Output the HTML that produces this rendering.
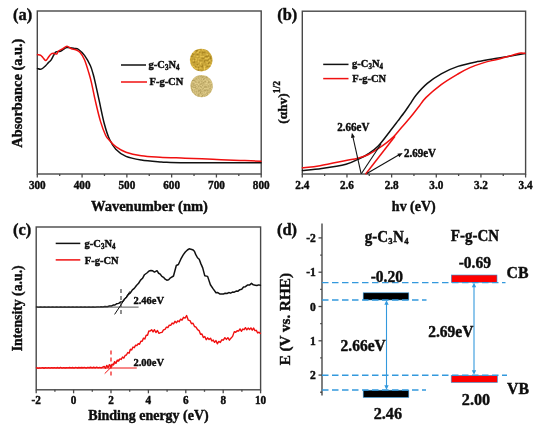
<!DOCTYPE html>
<html><head><meta charset="utf-8"><style>
html,body{margin:0;padding:0;background:#fff;width:550px;height:431px;overflow:hidden}
svg{display:block;filter:blur(0.3px)}
text{font-family:"Liberation Serif",serif;font-weight:bold;fill:#0d0d0d;stroke:#0d0d0d;stroke-width:0.4px}
</style></head><body>
<svg width="550" height="431" viewBox="0 0 550 431">
<rect width="550" height="431" fill="#fff"/>
<rect x="37.3" y="11" width="223.89999999999998" height="163" fill="none" stroke="#484848" stroke-width="1.4"/>
<line x1="37.3" y1="174" x2="37.3" y2="177.5" stroke="#484848" stroke-width="1.3" />
<text transform="translate(37.30,188.50) scale(1,1.06)" x="0" y="0" font-size="11.2" text-anchor="middle" >300</text>
<line x1="59.69" y1="174" x2="59.69" y2="176" stroke="#484848" stroke-width="1.3" />
<line x1="82.07999999999998" y1="174" x2="82.07999999999998" y2="177.5" stroke="#484848" stroke-width="1.3" />
<text transform="translate(82.08,188.50) scale(1,1.06)" x="0" y="0" font-size="11.2" text-anchor="middle" >400</text>
<line x1="104.47" y1="174" x2="104.47" y2="176" stroke="#484848" stroke-width="1.3" />
<line x1="126.85999999999999" y1="174" x2="126.85999999999999" y2="177.5" stroke="#484848" stroke-width="1.3" />
<text transform="translate(126.86,188.50) scale(1,1.06)" x="0" y="0" font-size="11.2" text-anchor="middle" >500</text>
<line x1="149.25" y1="174" x2="149.25" y2="176" stroke="#484848" stroke-width="1.3" />
<line x1="171.64" y1="174" x2="171.64" y2="177.5" stroke="#484848" stroke-width="1.3" />
<text transform="translate(171.64,188.50) scale(1,1.06)" x="0" y="0" font-size="11.2" text-anchor="middle" >600</text>
<line x1="194.02999999999997" y1="174" x2="194.02999999999997" y2="176" stroke="#484848" stroke-width="1.3" />
<line x1="216.41999999999996" y1="174" x2="216.41999999999996" y2="177.5" stroke="#484848" stroke-width="1.3" />
<text transform="translate(216.42,188.50) scale(1,1.06)" x="0" y="0" font-size="11.2" text-anchor="middle" >700</text>
<line x1="238.80999999999995" y1="174" x2="238.80999999999995" y2="176" stroke="#484848" stroke-width="1.3" />
<line x1="261.2" y1="174" x2="261.2" y2="177.5" stroke="#484848" stroke-width="1.3" />
<text transform="translate(261.20,188.50) scale(1,1.06)" x="0" y="0" font-size="11.2" text-anchor="middle" >800</text>
<text transform="translate(149.40,210.50) scale(1,1.06)" x="0" y="0" font-size="14.5" text-anchor="middle" >Wavenumber (nm)</text>
<text x="0" y="0" font-size="14.4" text-anchor="middle" transform="translate(22.4,93.2) rotate(-90)">Absorbance (a.u.)</text>
<text transform="translate(13.00,19.50) scale(1,1.06)" x="0" y="0" font-size="16.4" text-anchor="start" >(a)</text>
<line x1="121" y1="65" x2="146" y2="65" stroke="#111111" stroke-width="1.5" />
<line x1="121" y1="82" x2="147" y2="82" stroke="#f01010" stroke-width="1.5" />
<text transform="translate(148.50,68.30) scale(1,1.06)" x="0" y="0" font-size="10.5" text-anchor="start" >g-C<tspan dx="0.02em" baseline-shift="-28%" font-size="66%">3</tspan>N<tspan dx="0.02em" baseline-shift="-28%" font-size="66%">4</tspan></text>
<text transform="translate(149.50,84.50) scale(1,1.06)" x="0" y="0" font-size="10.5" text-anchor="start" >F-g-CN</text>
<defs><filter id="grain" x="0" y="0" width="1" height="1"><feTurbulence type="fractalNoise" baseFrequency="0.9" numOctaves="2" seed="3"/><feColorMatrix type="saturate" values="0"/><feComponentTransfer><feFuncA type="table" tableValues="0 0.35"/></feComponentTransfer><feComposite in2="SourceGraphic" operator="in"/><feBlend in2="SourceGraphic" mode="multiply"/></filter></defs>
<defs><filter id="g1" x="0" y="0" width="100%" height="100%" color-interpolation-filters="sRGB"><feTurbulence type="fractalNoise" baseFrequency="0.5" numOctaves="2" seed="11"/><feColorMatrix type="matrix" values="0.55 0 0 0 0.51  0.55 0 0 0 0.37  0.4 0 0 0 0.02  0 0 0 0 1"/><feComposite in2="SourceAlpha" operator="in"/></filter><filter id="g2" x="0" y="0" width="100%" height="100%" color-interpolation-filters="sRGB"><feTurbulence type="fractalNoise" baseFrequency="0.6" numOctaves="2" seed="4"/><feColorMatrix type="matrix" values="0.35 0 0 0 0.63  0.35 0 0 0 0.55  0.35 0 0 0 0.29  0 0 0 0 1"/><feComposite in2="SourceAlpha" operator="in"/></filter></defs>
<circle cx="201.2" cy="60.1" r="11.3" fill="#cba52c" filter="url(#g1)"/>
<circle cx="201.6" cy="86.1" r="11.2" fill="#cbb35e" filter="url(#g2)"/>
<path d="M37.50,68.50 C38.12,68.60 39.85,69.57 41.20,69.10 C42.55,68.63 44.37,66.82 45.60,65.70 C46.83,64.58 47.73,63.28 48.60,62.40 C49.47,61.52 49.93,61.63 50.80,60.40 C51.67,59.17 52.93,56.43 53.80,55.00 C54.67,53.57 54.88,52.43 56.00,51.80 C57.12,51.17 59.25,51.60 60.50,51.20 C61.75,50.80 62.42,50.00 63.50,49.40 C64.58,48.80 65.20,47.77 67.00,47.60 C68.80,47.43 72.37,48.08 74.30,48.40 C76.23,48.72 76.90,48.33 78.60,49.50 C80.30,50.67 82.55,52.73 84.50,55.40 C86.45,58.07 88.85,62.35 90.30,65.50 C91.75,68.65 92.37,71.42 93.20,74.30 C94.03,77.18 94.30,78.40 95.30,82.80 C96.30,87.20 97.70,93.88 99.20,100.70 C100.70,107.52 102.60,117.32 104.30,123.70 C106.00,130.08 107.48,134.75 109.40,139.00 C111.32,143.25 113.03,146.30 115.80,149.20 C118.57,152.10 121.75,154.60 126.00,156.40 C130.25,158.20 135.63,159.07 141.30,160.00 C146.97,160.93 155.77,161.62 160.00,162.00 C164.23,162.38 161.40,162.17 166.70,162.30 C172.00,162.43 176.08,162.72 191.80,162.80 C207.52,162.88 249.47,162.80 261.00,162.80" fill="none" stroke="#111111" stroke-width="1.5" stroke-linejoin="round" stroke-linecap="round" />
<path d="M37.50,54.60 C38.05,54.72 39.88,54.77 40.80,55.30 C41.72,55.83 42.20,56.92 43.00,57.80 C43.80,58.68 44.85,60.47 45.60,60.60 C46.35,60.73 46.63,59.67 47.50,58.60 C48.37,57.53 49.75,55.08 50.80,54.20 C51.85,53.32 52.80,53.33 53.80,53.30 C54.80,53.27 56.05,54.35 56.80,54.00 C57.55,53.65 57.33,52.07 58.30,51.20 C59.27,50.33 61.15,49.62 62.60,48.80 C64.05,47.98 65.53,46.30 67.00,46.30 C68.47,46.30 69.95,48.22 71.40,48.80 C72.85,49.38 74.25,49.18 75.70,49.80 C77.15,50.42 78.63,50.85 80.10,52.50 C81.57,54.15 83.05,56.32 84.50,59.70 C85.95,63.08 87.63,68.95 88.80,72.80 C89.97,76.65 90.42,78.15 91.50,82.80 C92.58,87.45 93.82,94.32 95.30,100.70 C96.78,107.08 98.68,115.35 100.40,121.10 C102.12,126.85 104.10,132.00 105.60,135.20 C107.10,138.40 107.70,138.38 109.40,140.30 C111.10,142.22 113.03,144.70 115.80,146.70 C118.57,148.70 121.75,150.78 126.00,152.30 C130.25,153.82 135.63,154.98 141.30,155.80 C146.97,156.62 152.72,156.80 160.00,157.20 C167.28,157.60 176.20,157.85 185.00,158.20 C193.80,158.55 203.63,158.93 212.80,159.30 C221.97,159.67 231.97,160.08 240.00,160.40 C248.03,160.72 257.50,161.07 261.00,161.20" fill="none" stroke="#f01010" stroke-width="1.5" stroke-linejoin="round" stroke-linecap="round" />
<rect x="302.3" y="11.2" width="223.3" height="162.8" fill="none" stroke="#484848" stroke-width="1.4"/>
<line x1="302.3" y1="174" x2="302.3" y2="177.5" stroke="#484848" stroke-width="1.3" />
<text transform="translate(302.30,188.70) scale(1,1.06)" x="0" y="0" font-size="11.2" text-anchor="middle" >2.4</text>
<line x1="324.63000000000005" y1="174" x2="324.63000000000005" y2="176" stroke="#484848" stroke-width="1.3" />
<line x1="346.96000000000004" y1="174" x2="346.96000000000004" y2="177.5" stroke="#484848" stroke-width="1.3" />
<text transform="translate(346.96,188.70) scale(1,1.06)" x="0" y="0" font-size="11.2" text-anchor="middle" >2.6</text>
<line x1="369.2900000000001" y1="174" x2="369.2900000000001" y2="176" stroke="#484848" stroke-width="1.3" />
<line x1="391.62" y1="174" x2="391.62" y2="177.5" stroke="#484848" stroke-width="1.3" />
<text transform="translate(391.62,188.70) scale(1,1.06)" x="0" y="0" font-size="11.2" text-anchor="middle" >2.8</text>
<line x1="413.95000000000005" y1="174" x2="413.95000000000005" y2="176" stroke="#484848" stroke-width="1.3" />
<line x1="436.28000000000003" y1="174" x2="436.28000000000003" y2="177.5" stroke="#484848" stroke-width="1.3" />
<text transform="translate(436.28,188.70) scale(1,1.06)" x="0" y="0" font-size="11.2" text-anchor="middle" >3.0</text>
<line x1="458.61000000000007" y1="174" x2="458.61000000000007" y2="176" stroke="#484848" stroke-width="1.3" />
<line x1="480.94000000000005" y1="174" x2="480.94000000000005" y2="177.5" stroke="#484848" stroke-width="1.3" />
<text transform="translate(480.94,188.70) scale(1,1.06)" x="0" y="0" font-size="11.2" text-anchor="middle" >3.2</text>
<line x1="503.27" y1="174" x2="503.27" y2="176" stroke="#484848" stroke-width="1.3" />
<line x1="525.6" y1="174" x2="525.6" y2="177.5" stroke="#484848" stroke-width="1.3" />
<text transform="translate(525.60,188.70) scale(1,1.06)" x="0" y="0" font-size="11.2" text-anchor="middle" >3.4</text>
<text transform="translate(413.80,210.80) scale(1,1.06)" x="0" y="0" font-size="14" text-anchor="middle" >hv (eV)</text>
<g transform="translate(287,123.8) rotate(-90)"><text x="0" y="0" font-size="13.4">(αhv)<tspan font-size="9.5" dy="-6.8">1/2</tspan></text></g>
<text transform="translate(277.30,19.90) scale(1,1.06)" x="0" y="0" font-size="16.4" text-anchor="start" >(b)</text>
<line x1="323.2" y1="64.4" x2="348.5" y2="64.4" stroke="#111111" stroke-width="1.5" />
<line x1="323.2" y1="78.6" x2="348.5" y2="78.6" stroke="#f01010" stroke-width="1.5" />
<text transform="translate(352.00,67.40) scale(1,1.06)" x="0" y="0" font-size="10.5" text-anchor="start" >g-C<tspan dx="0.02em" baseline-shift="-28%" font-size="66%">3</tspan>N<tspan dx="0.02em" baseline-shift="-28%" font-size="66%">4</tspan></text>
<text transform="translate(352.30,82.00) scale(1,1.06)" x="0" y="0" font-size="10.5" text-anchor="start" >F-g-CN</text>
<path d="M302.50,170.50 C305.72,170.17 314.55,169.53 321.80,168.50 C329.05,167.47 340.00,165.82 346.00,164.30 C352.00,162.78 354.13,161.12 357.80,159.40 C361.47,157.68 364.60,156.23 368.00,154.00 C371.40,151.77 374.38,150.00 378.20,146.00 C382.02,142.00 387.62,134.18 390.90,130.00 C394.18,125.82 395.58,123.93 397.90,120.90 C400.22,117.87 402.78,114.58 404.80,111.80 C406.82,109.02 408.10,107.00 410.00,104.20 C411.90,101.40 413.32,98.47 416.20,95.00 C419.08,91.53 423.13,86.93 427.30,83.40 C431.47,79.87 436.10,76.63 441.20,73.80 C446.30,70.97 451.87,68.43 457.90,66.40 C463.93,64.37 470.90,62.97 477.40,61.60 C483.90,60.23 491.33,59.13 496.90,58.20 C502.47,57.27 506.12,56.77 510.80,56.00 C515.48,55.23 522.63,54.00 525.00,53.60" fill="none" stroke="#111111" stroke-width="1.5" stroke-linejoin="round" stroke-linecap="round" />
<path d="M302.50,167.80 C305.42,167.45 312.75,166.90 320.00,165.70 C327.25,164.50 339.70,161.85 346.00,160.60 C352.30,159.35 354.13,159.18 357.80,158.20 C361.47,157.22 364.60,156.30 368.00,154.70 C371.40,153.10 375.08,150.62 378.20,148.60 C381.32,146.58 384.12,144.60 386.70,142.60 C389.28,140.60 391.37,138.93 393.70,136.60 C396.03,134.27 397.98,131.73 400.70,128.60 C403.42,125.47 407.07,121.35 410.00,117.80 C412.93,114.25 415.65,110.67 418.30,107.30 C420.95,103.93 422.08,101.38 425.90,97.60 C429.72,93.82 435.87,88.53 441.20,84.60 C446.53,80.67 453.10,76.83 457.90,74.00 C462.70,71.17 465.65,69.50 470.00,67.60 C474.35,65.70 479.52,63.97 484.00,62.60 C488.48,61.23 492.43,60.57 496.90,59.40 C501.37,58.23 507.08,56.63 510.80,55.60 C514.52,54.57 516.83,53.58 519.20,53.20 C521.57,52.82 524.03,53.28 525.00,53.30" fill="none" stroke="#f01010" stroke-width="1.5" stroke-linejoin="round" stroke-linecap="round" />
<line x1="361.3" y1="173.8" x2="381" y2="144" stroke="#111111" stroke-width="1.1" />
<line x1="365.5" y1="174.2" x2="395" y2="136.2" stroke="#f01010" stroke-width="1.5" />
<line x1="361.1" y1="173.6" x2="352.6" y2="135.5" stroke="#111111" stroke-width="1.1" />
<path d="M351.90,132.70 L354.95,137.14 L351.05,138.02 Z" fill="#111111"/>
<line x1="366.9" y1="173.6" x2="399.5" y2="154.6" stroke="#111111" stroke-width="1.1" />
<path d="M402.70,153.10 L399.35,157.32 L397.37,153.85 Z" fill="#111111"/>
<text transform="translate(337.30,130.50) scale(1,1.06)" x="0" y="0" font-size="11" text-anchor="start" >2.66eV</text>
<text transform="translate(404.00,157.10) scale(1,1.06)" x="0" y="0" font-size="11" text-anchor="start" >2.69eV</text>
<rect x="36.2" y="227" width="224.40000000000003" height="162.8" fill="none" stroke="#484848" stroke-width="1.4"/>
<line x1="36.2" y1="389.8" x2="36.2" y2="393.3" stroke="#484848" stroke-width="1.3" />
<text transform="translate(36.20,404.20) scale(1,1.06)" x="0" y="0" font-size="11.2" text-anchor="middle" >-2</text>
<line x1="54.900000000000006" y1="389.8" x2="54.900000000000006" y2="391.8" stroke="#484848" stroke-width="1.3" />
<line x1="73.60000000000001" y1="389.8" x2="73.60000000000001" y2="393.3" stroke="#484848" stroke-width="1.3" />
<text transform="translate(73.60,404.20) scale(1,1.06)" x="0" y="0" font-size="11.2" text-anchor="middle" >0</text>
<line x1="92.30000000000001" y1="389.8" x2="92.30000000000001" y2="391.8" stroke="#484848" stroke-width="1.3" />
<line x1="111.00000000000001" y1="389.8" x2="111.00000000000001" y2="393.3" stroke="#484848" stroke-width="1.3" />
<text transform="translate(111.00,404.20) scale(1,1.06)" x="0" y="0" font-size="11.2" text-anchor="middle" >2</text>
<line x1="129.70000000000002" y1="389.8" x2="129.70000000000002" y2="391.8" stroke="#484848" stroke-width="1.3" />
<line x1="148.4" y1="389.8" x2="148.4" y2="393.3" stroke="#484848" stroke-width="1.3" />
<text transform="translate(148.40,404.20) scale(1,1.06)" x="0" y="0" font-size="11.2" text-anchor="middle" >4</text>
<line x1="167.10000000000002" y1="389.8" x2="167.10000000000002" y2="391.8" stroke="#484848" stroke-width="1.3" />
<line x1="185.8" y1="389.8" x2="185.8" y2="393.3" stroke="#484848" stroke-width="1.3" />
<text transform="translate(185.80,404.20) scale(1,1.06)" x="0" y="0" font-size="11.2" text-anchor="middle" >6</text>
<line x1="204.50000000000006" y1="389.8" x2="204.50000000000006" y2="391.8" stroke="#484848" stroke-width="1.3" />
<line x1="223.20000000000005" y1="389.8" x2="223.20000000000005" y2="393.3" stroke="#484848" stroke-width="1.3" />
<text transform="translate(223.20,404.20) scale(1,1.06)" x="0" y="0" font-size="11.2" text-anchor="middle" >8</text>
<line x1="241.90000000000003" y1="389.8" x2="241.90000000000003" y2="391.8" stroke="#484848" stroke-width="1.3" />
<line x1="260.6" y1="389.8" x2="260.6" y2="393.3" stroke="#484848" stroke-width="1.3" />
<text transform="translate(260.60,404.20) scale(1,1.06)" x="0" y="0" font-size="11.2" text-anchor="middle" >10</text>
<text transform="translate(148.50,419.80) scale(1,1.06)" x="0" y="0" font-size="14" text-anchor="middle" >Binding energy (eV)</text>
<text x="0" y="0" font-size="13.75" text-anchor="middle" transform="translate(22.2,308.3) rotate(-90)">Intensity (a.u.)</text>
<text transform="translate(13.00,234.50) scale(1,1.06)" x="0" y="0" font-size="16.4" text-anchor="start" >(c)</text>
<line x1="55.7" y1="243.4" x2="80.3" y2="243.4" stroke="#111111" stroke-width="1.5" />
<line x1="55.7" y1="259.9" x2="80.3" y2="259.9" stroke="#f01010" stroke-width="1.5" />
<text transform="translate(84.50,247.40) scale(1,1.06)" x="0" y="0" font-size="10.5" text-anchor="start" >g-C<tspan dx="0.02em" baseline-shift="-28%" font-size="66%">3</tspan>N<tspan dx="0.02em" baseline-shift="-28%" font-size="66%">4</tspan></text>
<text transform="translate(84.80,263.80) scale(1,1.06)" x="0" y="0" font-size="10.5" text-anchor="start" >F-g-CN</text>
<path d="M36.50,307.04 L38.52,307.20 L40.53,307.03 L42.55,307.20 L44.57,306.99 L46.59,307.14 L48.60,307.07 L50.62,307.23 L52.64,307.04 L54.66,307.16 L56.67,306.95 L58.69,307.19 L60.71,306.97 L62.72,307.19 L64.74,306.99 L66.76,307.15 L68.78,306.99 L70.79,307.23 L72.81,307.01 L74.83,307.22 L76.84,306.99 L78.86,307.14 L80.88,306.98 L82.90,307.20 L84.91,307.03 L86.93,307.13 L88.95,306.97 L90.97,307.19 L92.98,306.98 L95.00,307.24 L97.00,306.92 L99.00,307.12 L101.00,306.84 L103.00,306.99 L105.00,306.49 L107.25,306.72 L109.50,305.93 L111.33,306.12 L113.15,305.04 L114.97,305.01 L116.80,303.69 L118.73,303.38 L120.67,301.91 L122.60,301.68 L124.57,298.97 L126.53,297.18 L128.50,294.28 L130.43,292.84 L132.37,289.94 L134.30,288.38 L136.45,285.44 L138.60,283.26 L140.57,280.10 L142.53,278.28 L144.50,274.73 L147.20,272.75 L149.05,270.92 L150.90,270.54 L152.70,270.80 L154.50,272.04 L157.00,270.69 L158.63,273.23 L160.27,274.20 L161.90,276.35 L163.53,277.37 L165.17,279.20 L166.80,280.17 L168.65,279.67 L170.50,277.80 L173.50,276.00 L176.30,265.50 L178.40,264.53 L180.80,259.22 L183.20,254.93 L185.30,252.03 L187.40,250.00 L189.15,248.84 L190.90,249.16 L192.65,249.68 L194.40,251.26 L195.80,254.64 L197.50,257.75 L199.20,259.30 L200.95,263.86 L202.70,267.85 L204.80,275.85 L207.60,276.38 L210.40,284.75 L213.00,288.67 L216.00,292.72 L217.83,292.61 L219.67,293.89 L221.50,293.91 L223.32,294.11 L225.14,293.25 L226.96,293.47 L228.78,292.56 L230.60,293.13 L232.45,292.07 L234.30,292.15 L236.15,291.02 L238.00,291.18 L239.85,289.65 L241.70,289.30 L243.55,287.08 L245.40,286.66 L247.43,285.11 L249.47,285.10 L251.50,283.39 L253.35,284.83 L255.20,285.17 L256.93,285.57 L258.67,284.89 L260.40,285.30" fill="none" stroke="#111111" stroke-width="1.5" stroke-linejoin="round" stroke-linecap="round" />
<line x1="36.5" y1="307.1" x2="138.6" y2="307.1" stroke="#555" stroke-width="1.0" />
<line x1="114.6" y1="314.4" x2="130" y2="291.3" stroke="#111111" stroke-width="1.0" />
<line x1="121" y1="289" x2="121" y2="317" stroke="#333" stroke-width="1.1" stroke-dasharray="4,3"/>
<text transform="translate(133.50,303.80) scale(1,1.06)" x="0" y="0" font-size="10.5" text-anchor="start" >2.46eV</text>
<path d="M36.50,367.61 L38.00,368.37 L39.51,367.88 L41.01,368.07 L42.52,367.61 L44.02,368.26 L45.53,367.64 L47.03,368.10 L48.54,367.64 L50.04,368.17 L51.54,367.62 L53.05,368.01 L54.55,367.65 L56.06,368.06 L57.56,367.53 L59.07,368.23 L60.57,367.44 L62.08,368.07 L63.58,367.58 L65.08,367.95 L66.59,367.69 L68.09,367.86 L69.60,367.53 L71.10,367.93 L72.61,367.53 L74.11,368.09 L75.62,367.46 L77.12,367.96 L78.62,367.53 L80.13,367.77 L81.63,367.48 L83.14,367.78 L84.64,367.40 L86.15,368.03 L87.65,367.33 L89.16,367.75 L90.66,367.23 L92.16,367.92 L93.67,367.26 L95.17,367.94 L96.68,367.23 L98.18,367.88 L99.69,367.34 L101.19,367.92 L102.70,367.12 L104.20,366.45 L105.50,368.27 L106.80,365.41 L108.10,367.67 L109.40,364.63 L110.70,366.81 L112.02,364.29 L113.34,364.70 L114.66,361.63 L115.98,363.36 L117.30,360.12 L118.60,361.06 L119.90,358.88 L121.20,359.46 L122.50,357.03 L123.80,358.09 L125.12,355.46 L126.44,355.02 L127.76,352.50 L129.08,353.22 L130.40,349.28 L131.70,349.91 L133.00,347.08 L134.30,347.73 L135.60,345.14 L136.90,345.55 L138.22,343.70 L139.54,344.25 L140.86,341.25 L142.18,341.26 L143.50,338.12 L144.84,339.03 L146.18,335.11 L147.52,335.29 L148.86,330.97 L150.20,331.11 L151.62,329.73 L153.05,331.98 L154.47,329.70 L155.90,332.56 L157.43,330.49 L158.97,333.29 L160.50,332.67 L162.00,332.40 L163.50,329.93 L165.00,329.28 L166.43,327.09 L167.85,327.62 L169.27,325.15 L170.70,325.41 L172.12,323.02 L173.55,323.82 L174.97,321.29 L176.40,322.88 L177.80,320.77 L179.20,321.78 L180.60,319.20 L182.00,320.17 L183.53,317.33 L185.07,318.13 L186.60,315.60 L188.30,320.16 L190.00,320.58 L191.50,323.68 L193.00,323.23 L194.50,326.49 L196.03,327.06 L197.57,329.59 L199.10,330.58 L200.53,334.27 L201.95,334.01 L203.38,337.48 L204.80,336.58 L206.23,339.71 L207.65,337.84 L209.07,339.55 L210.50,338.17 L211.86,341.01 L213.22,340.03 L214.58,342.34 L215.94,340.56 L217.30,343.83 L218.80,341.39 L220.30,342.40 L221.80,339.79 L223.33,340.18 L224.87,337.70 L226.40,339.40 L227.90,337.66 L229.40,340.14 L230.90,338.15 L232.60,336.37 L234.30,331.62 L235.73,332.24 L237.15,330.76 L238.57,331.05 L240.00,328.87 L241.36,331.28 L242.72,329.07 L244.08,329.70 L245.44,327.64 L246.80,329.84 L248.16,328.11 L249.52,329.48 L250.88,327.89 L252.24,330.19 L253.60,328.05 L254.96,330.61 L256.32,330.33 L257.68,333.00 L259.04,332.16 L260.40,333.40" fill="none" stroke="#f01010" stroke-width="1.4" stroke-linejoin="round" stroke-linecap="round" />
<line x1="36.5" y1="368" x2="136.8" y2="368" stroke="#f01010" stroke-width="1.0" />
<line x1="104.7" y1="373.6" x2="119" y2="359.5" stroke="#f01010" stroke-width="1.0" />
<line x1="111" y1="350.5" x2="111" y2="378" stroke="#f01010" stroke-width="1.2" stroke-dasharray="4,3"/>
<text transform="translate(133.40,365.80) scale(1,1.06)" x="0" y="0" font-size="10.5" text-anchor="start" >2.00eV</text>
<line x1="322" y1="223.5" x2="322" y2="395.5" stroke="#484848" stroke-width="1.4" />
<line x1="318.5" y1="237.9" x2="322" y2="237.9" stroke="#484848" stroke-width="1.3" />
<text transform="translate(315.80,241.90) scale(1,1.06)" x="0" y="0" font-size="11.6" text-anchor="end" >-2</text>
<line x1="320.2" y1="255.05" x2="322" y2="255.05" stroke="#484848" stroke-width="1.3" />
<line x1="318.5" y1="272.2" x2="322" y2="272.2" stroke="#484848" stroke-width="1.3" />
<text transform="translate(315.80,276.20) scale(1,1.06)" x="0" y="0" font-size="11.6" text-anchor="end" >-1</text>
<line x1="320.2" y1="289.35" x2="322" y2="289.35" stroke="#484848" stroke-width="1.3" />
<line x1="318.5" y1="306.5" x2="322" y2="306.5" stroke="#484848" stroke-width="1.3" />
<text transform="translate(315.80,310.50) scale(1,1.06)" x="0" y="0" font-size="11.6" text-anchor="end" >0</text>
<line x1="320.2" y1="323.65" x2="322" y2="323.65" stroke="#484848" stroke-width="1.3" />
<line x1="318.5" y1="340.8" x2="322" y2="340.8" stroke="#484848" stroke-width="1.3" />
<text transform="translate(315.80,344.80) scale(1,1.06)" x="0" y="0" font-size="11.6" text-anchor="end" >1</text>
<line x1="320.2" y1="357.95" x2="322" y2="357.95" stroke="#484848" stroke-width="1.3" />
<line x1="318.5" y1="375.1" x2="322" y2="375.1" stroke="#484848" stroke-width="1.3" />
<text transform="translate(315.80,379.10) scale(1,1.06)" x="0" y="0" font-size="11.6" text-anchor="end" >2</text>
<line x1="320.2" y1="392.25" x2="322" y2="392.25" stroke="#484848" stroke-width="1.3" />
<text x="0" y="0" font-size="15.15" text-anchor="middle" transform="translate(290.2,319.2) rotate(-90)">E (V vs. RHE)</text>
<text transform="translate(277.00,234.50) scale(1,1.06)" x="0" y="0" font-size="16.4" text-anchor="start" >(d)</text>
<text transform="translate(364.70,241.80) scale(1,1.06)" x="0" y="0" font-size="15" text-anchor="start" >g-C<tspan dx="0.03em" baseline-shift="-22%" font-size="58%">3</tspan><tspan dx="0.03em">N</tspan><tspan dx="0.03em" baseline-shift="-22%" font-size="58%">4</tspan></text>
<text transform="translate(450.80,241.30) scale(1,1.06)" x="0" y="0" font-size="15" text-anchor="start" >F-g-CN</text>
<rect x="363.2" y="292.8" width="45.6" height="7.2" fill="#000" stroke="#3399dd" stroke-width="0.6"/>
<rect x="363.2" y="390.2" width="45.6" height="7.2" fill="#000" stroke="#3399dd" stroke-width="0.6"/>
<rect x="451.3" y="275" width="45.7" height="7.4" fill="#ff0000" stroke="#3399dd" stroke-width="0.6"/>
<rect x="451.2" y="375.4" width="46.2" height="7.1" fill="#ff0000" stroke="#3399dd" stroke-width="0.6"/>
<line x1="322" y1="282.6" x2="505.5" y2="282.6" stroke="#3399dd" stroke-width="1.35" stroke-dasharray="6.5,3.5"/>
<line x1="322" y1="300" x2="426.5" y2="300" stroke="#3399dd" stroke-width="1.35" stroke-dasharray="6.5,3.5"/>
<line x1="322" y1="375.2" x2="507" y2="375.2" stroke="#3399dd" stroke-width="1.35" stroke-dasharray="6.5,3.5"/>
<line x1="322" y1="390" x2="426" y2="390" stroke="#3399dd" stroke-width="1.35" stroke-dasharray="6.5,3.5"/>
<line x1="386.5" y1="303" x2="386.5" y2="387" stroke="#3399dd" stroke-width="1.1" />
<path d="M386.50,300.30 L388.70,304.80 L384.30,304.80 Z" fill="#3399dd"/>
<path d="M386.50,389.80 L384.30,385.30 L388.70,385.30 Z" fill="#3399dd"/>
<line x1="474" y1="285" x2="474" y2="372" stroke="#3399dd" stroke-width="1.1" />
<path d="M474.00,282.80 L476.20,287.30 L471.80,287.30 Z" fill="#3399dd"/>
<path d="M474.00,374.80 L471.80,370.30 L476.20,370.30 Z" fill="#3399dd"/>
<text transform="translate(386.80,281.80) scale(1,1.06)" x="0" y="0" font-size="15.5" text-anchor="middle" >-0.20</text>
<text transform="translate(474.80,267.50) scale(1,1.06)" x="0" y="0" font-size="15.5" text-anchor="middle" >-0.69</text>
<text x="506.6" y="278.3" font-size="15.8" text-anchor="start" >CB</text>
<text x="507.0" y="393.9" font-size="15.8" text-anchor="start" >VB</text>
<text transform="translate(387.80,419.30) scale(1,1.06)" x="0" y="0" font-size="16.2" text-anchor="middle" >2.46</text>
<text transform="translate(476.00,404.60) scale(1,1.06)" x="0" y="0" font-size="16.2" text-anchor="middle" >2.00</text>
<text transform="translate(340.60,351.00) scale(1,1.06)" x="0" y="0" font-size="15.5" text-anchor="start" >2.66eV</text>
<text transform="translate(428.20,337.00) scale(1,1.06)" x="0" y="0" font-size="15.5" text-anchor="start" >2.69eV</text>
</svg></body></html>
